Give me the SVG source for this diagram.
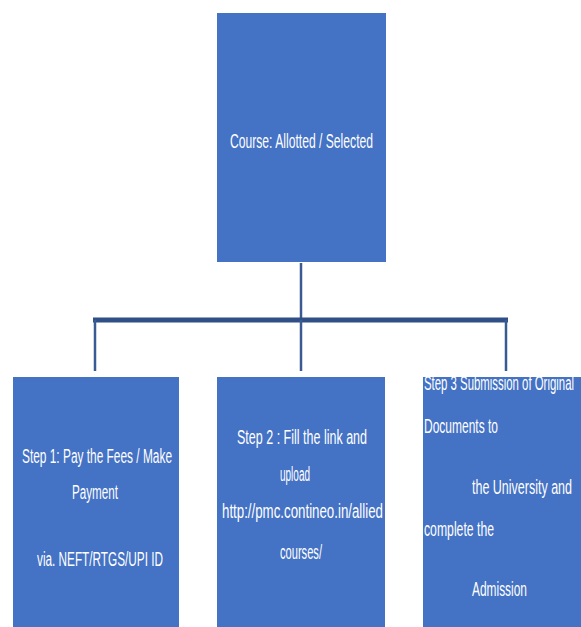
<svg xmlns="http://www.w3.org/2000/svg" width="581" height="627" viewBox="0 0 581 627">
<style>
.box{fill:#4472C4;}
.t{fill:#FFFFFF;font-family:"Liberation Sans",Arial,sans-serif;font-size:20px;}
.conn{stroke:#3A5A93;stroke-width:2.5;fill:none;}
.bar{stroke:#2F4F86;stroke-width:5;fill:none;}
</style>
<rect width="581" height="627" fill="#FFFFFF"/>
<g id="connectors">
<line class="conn" x1="301" y1="263" x2="301" y2="320"/>
<line class="bar" x1="93" y1="320" x2="508" y2="320"/>
<line class="conn" x1="95" y1="320" x2="95" y2="371"/>
<line class="conn" x1="301" y1="320" x2="301" y2="371"/>
<line class="conn" x1="506" y1="320" x2="506" y2="371"/>
</g>
<g id="node-course">
<rect class="box" x="217" y="13" width="169" height="249"/>
<text class="t" x="230" y="148" textLength="143" lengthAdjust="spacingAndGlyphs">Course: Allotted  / Selected</text>
</g>
<g id="node-step1">
<rect class="box" x="13" y="377" width="166" height="250"/>
<text class="t" x="22" y="463" textLength="150" lengthAdjust="spacingAndGlyphs">Step 1: Pay the Fees / Make</text>
<text class="t" x="72" y="499" textLength="46" lengthAdjust="spacingAndGlyphs">Payment</text>
<text class="t" x="37" y="566" textLength="126" lengthAdjust="spacingAndGlyphs">via. NEFT/RTGS/UPI  ID</text>
</g>
<g id="node-step2">
<rect class="box" x="217" y="377" width="168" height="250"/>
<text class="t" x="237" y="444" textLength="130" lengthAdjust="spacingAndGlyphs">Step 2 : Fill the link  and</text>
<text class="t" x="280" y="481" textLength="30" lengthAdjust="spacingAndGlyphs">upload</text>
<text class="t" x="222" y="518" textLength="161" lengthAdjust="spacingAndGlyphs">http://pmc.contineo.in/allied</text>
<text class="t" x="280" y="559" textLength="42" lengthAdjust="spacingAndGlyphs">courses/</text>
</g>
<g id="node-step3">
<rect class="box" x="423" y="377" width="158" height="250"/>
<text class="t" x="424" y="390" textLength="150" lengthAdjust="spacingAndGlyphs">Step 3 Submission of Original</text>
<text class="t" x="424" y="433" textLength="74" lengthAdjust="spacingAndGlyphs">Documents  to</text>
<text class="t" x="472" y="494" textLength="100" lengthAdjust="spacingAndGlyphs">the University  and</text>
<text class="t" x="424" y="536" textLength="70" lengthAdjust="spacingAndGlyphs">complete  the</text>
<text class="t" x="472" y="596" textLength="55" lengthAdjust="spacingAndGlyphs">Admission</text>
</g>
</svg>
